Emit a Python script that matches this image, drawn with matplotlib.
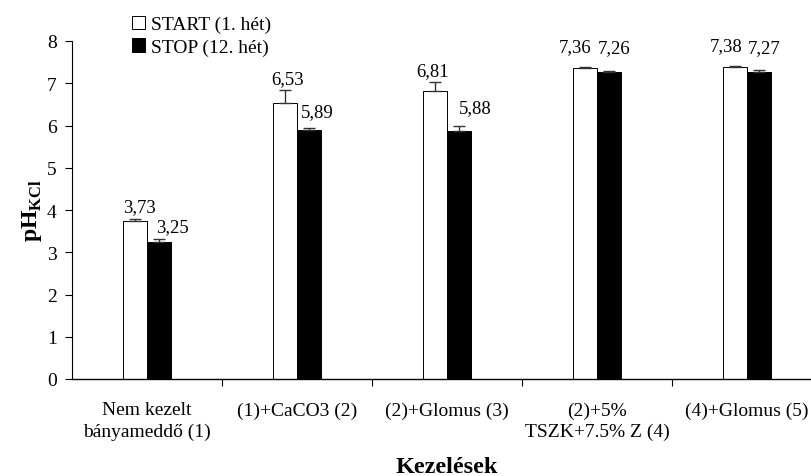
import matplotlib
matplotlib.use("Agg")
import matplotlib.pyplot as plt
import numpy as np

categories = ["Nem kezelt\nbányameddő (1)", "(1)+CaCO3 (2)", "(2)+Glomus (3)",
              "(2)+5%\nTSZK+7.5% Z (4)", "(4)+Glomus (5)"]
start_vals = [3.73, 6.53, 6.81, 7.36, 7.38]
stop_vals = [3.25, 5.89, 5.88, 7.26, 7.27]
start_err = [0.05, 0.30, 0.22, 0.03, 0.04]
stop_err = [0.06, 0.05, 0.10, 0.04, 0.04]
start_labels = ["3,73", "6,53", "6,81", "7,36", "7,38"]
stop_labels = ["3,25", "5,89", "5,88", "7,26", "7,27"]
yticks = [0, 1, 2, 3, 4, 5, 6, 7, 8]

# label offsets in pixels (dx, dy above error top)
start_dx = [4, 3, -2, -10, -9]
start_dy = [13, 12, 11, 20, 20]
stop_dx = [13, 8, 16, 5, 5]
stop_dy = [13, 16, 19, 23, 23]

plt.rcParams['font.family'] = ['Liberation Serif', 'DejaVu Serif']
plt.rcParams['mathtext.fontset'] = 'custom'
plt.rcParams['mathtext.rm'] = 'Liberation Serif'
plt.rcParams['mathtext.bf'] = 'Liberation Serif:bold'

dpi = 100
fig = plt.figure(figsize=(8.11, 4.77), dpi=dpi)
W, H = 811, 477
left, right, bottom, top = 72, 822, 380, 42
ax = fig.add_axes([left / W, (H - bottom) / H, (right - left) / W, (bottom - top) / H])

x = np.arange(len(categories))
bw = 0.16
ax.bar(x - bw / 2, start_vals, width=bw, color='white', edgecolor='black', linewidth=0.7,
       yerr=[np.zeros(len(x)), start_err], error_kw=dict(ecolor='#333333', elinewidth=1.0, capsize=4, capthick=1.0),
       label='START (1. hét)', zorder=2)
ax.bar(x + bw / 2, stop_vals, width=bw, color='black', edgecolor='black', linewidth=0.7,
       yerr=[np.zeros(len(x)), stop_err], error_kw=dict(ecolor='#333333', elinewidth=1.0, capsize=4, capthick=1.0),
       label='STOP (12. hét)', zorder=2)

pt = 72 / dpi
for i in range(len(x)):
    ax.annotate(start_labels[i], (x[i] - bw / 2, start_vals[i] + start_err[i]),
                xytext=(start_dx[i] * pt, start_dy[i] * pt), textcoords='offset points',
                ha='center', va='center', fontsize=13.5)
    ax.annotate(stop_labels[i], (x[i] + bw / 2, stop_vals[i] + stop_err[i]),
                xytext=(stop_dx[i] * pt, stop_dy[i] * pt), textcoords='offset points',
                ha='center', va='center', fontsize=13.5)

ax.set_xlim(-0.5, 4.5)
ax.set_ylim(0, 8)
ax.set_yticks(yticks)
ax.set_yticklabels([str(v) for v in yticks], fontsize=14)
ax.set_xticks(np.arange(0.5, 4.0, 1.0))
ax.set_xticklabels([])
ax.set_xticks(x, minor=True)
ax.set_xticklabels(categories, minor=True, fontsize=14, linespacing=1.35)
ax.tick_params(axis='x', which='minor', length=0, pad=16)
ax.tick_params(axis='x', which='major', direction='out', length=5, width=0.8)
ax.tick_params(axis='y', direction='out', length=5, width=0.8, pad=6)
for s in ['top', 'right']:
    ax.spines[s].set_visible(False)
ax.spines['left'].set_linewidth(0.8)
ax.spines['bottom'].set_linewidth(1.0)

ax.set_xlabel('Kezelések', fontsize=17.5, fontweight='bold', labelpad=11)
ax.set_ylabel(r'$\mathbf{pH}_{\mathbf{KCl}}$', fontsize=17, labelpad=2)

leg = ax.legend(loc='upper left', bbox_to_anchor=((118 - left) / (right - left), 1.0 + 39 / (bottom - top)),
                frameon=False, fontsize=14, handlelength=0.7, handleheight=0.7,
                handletextpad=0.3, labelspacing=0.25, borderpad=0.2)

fig.savefig('out.png', dpi=dpi)
